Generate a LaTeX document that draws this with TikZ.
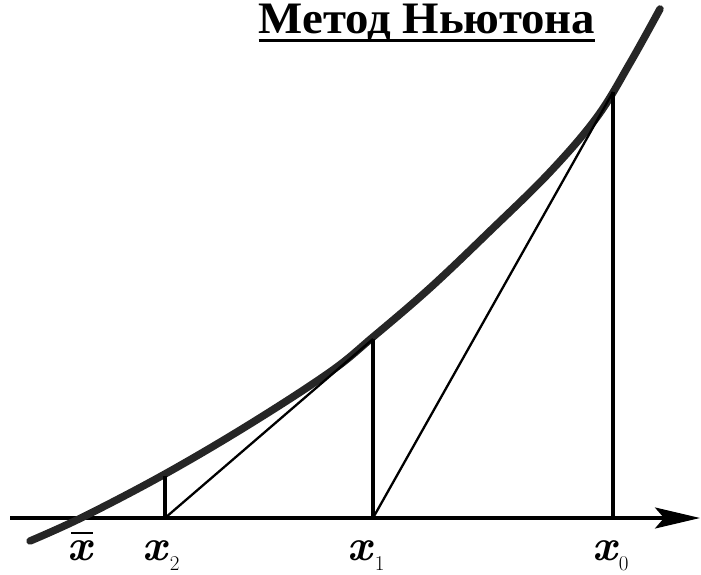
\documentclass[tikz,border=0pt]{standalone}
\usepackage{fontspec}
\newfontfamily\titlefont{Liberation Serif}
\usetikzlibrary{arrows.meta}
\newcommand\sublbl[1]{\raisebox{-10pt}{\fontsize{21}{21}\selectfont\mdseries\upshape #1}}
\begin{document}
\begin{tikzpicture}[x=1pt,y=-1pt,
  curve/.style={line width=7.5pt,line cap=round,draw=black!85},
  axisline/.style={line width=3.2pt,-{Stealth[length=45pt,width=21pt,inset=9pt]}},
  ordinate/.style={line width=3.2pt},
  tangent/.style={line width=2.3pt},
  lbl/.style={inner sep=0pt,anchor=base west,font=\fontsize{44}{44}\selectfont\bfseries\itshape}]
\useasboundingbox (0,0) rectangle (701,575);
% title
\node[inner sep=0pt,anchor=base,text height=30pt,text depth=3pt,font=\titlefont\bfseries\fontsize{45}{48}\selectfont] (title) at (427,34) {\scalebox{1.04}[1]{Метод Ньютона}};
\draw[line width=3pt] ([yshift=-7pt]title.base west) -- ([yshift=-7pt]title.base east);
% axis
\coordinate (axL) at (10,518);
\coordinate (axR) at (700,518);
\draw[axisline] (axL) -- (axR);
% curve
\draw[curve] plot[smooth,tension=0.6] coordinates {(30,541) (83,517) (165,474) (250,424) (330,372) (373,337) (430,288) (490,231) (550,172) (597,117) (630,63) (660,9)};
% points
\coordinate (b0) at (613,518); \coordinate (t0) at (613,92);
\coordinate (b1) at (373,518); \coordinate (t1) at (373,339);
\coordinate (b2) at (165,518); \coordinate (t2) at (165,476);
\draw[ordinate] (b0) -- (t0);
\draw[ordinate] (b1) -- (t1);
\draw[ordinate] (b2) -- (t2);
\draw[tangent] (t0) -- (b1);
\draw[tangent] (t1) -- (b2);
% labels
\node[lbl] (lxbar) at (67,560) {x};
\draw[line width=2.8pt] ([xshift=4pt,yshift=7pt]lxbar.north west) -- ([xshift=1pt,yshift=7pt]lxbar.north east);
\node[lbl] (lx2) at (142,560) {x\kern3pt\sublbl{2}};
\node[lbl] (lx1) at (347,560) {x\kern3pt\sublbl{1}};
\node[lbl] (lx0) at (592,560) {x\kern2pt\sublbl{0}};
\end{tikzpicture}
\end{document}
